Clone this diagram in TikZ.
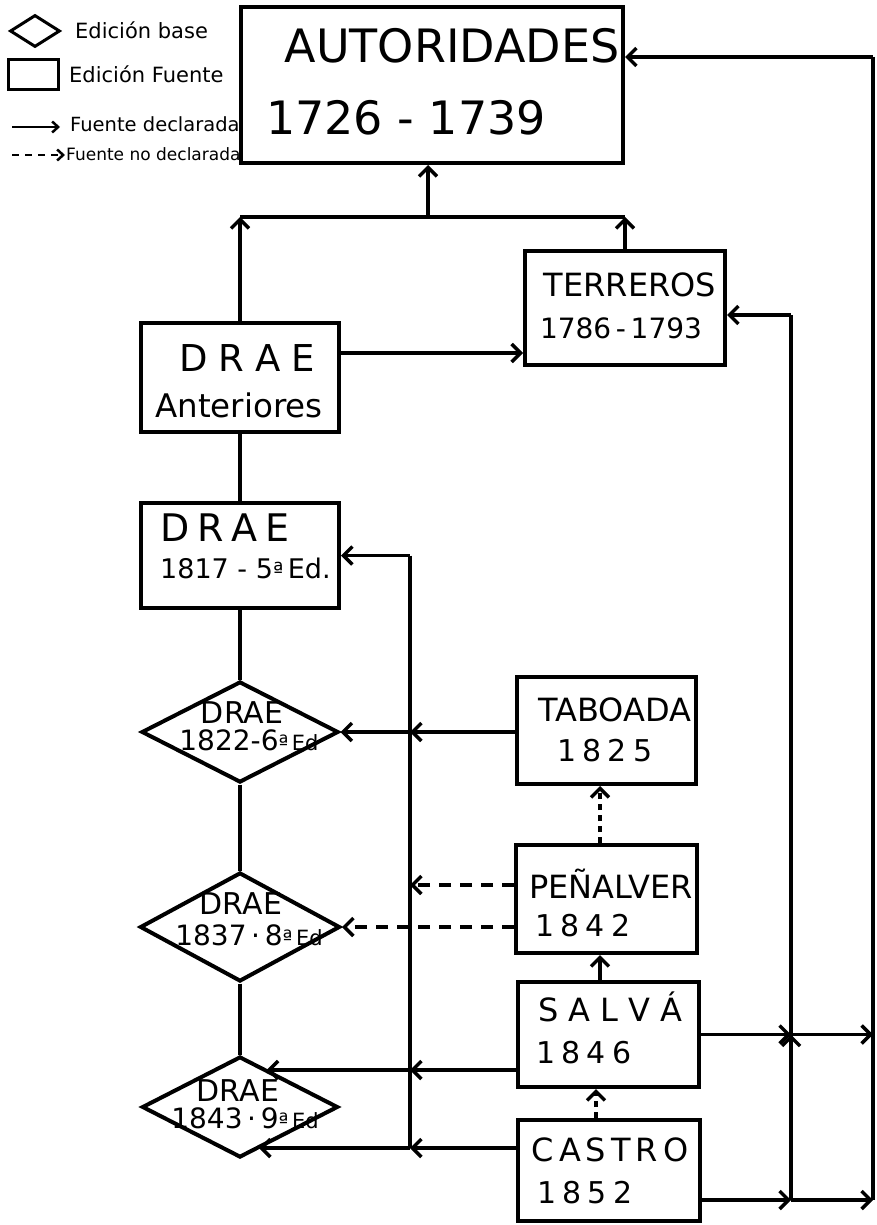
\documentclass[tikz,border=0pt]{standalone}
\usepackage{fontspec}
\setmainfont{DejaVu Sans}
\usetikzlibrary{arrows.meta,shapes.geometric,calc}
\newcommand{\fs}[1]{\fontsize{#1}{#1}\selectfont}
\begin{document}
\begin{tikzpicture}[x=1pt,y=-1pt,
  srcbox/.style={draw, rectangle, line width=4pt, inner sep=0pt},
  basedia/.style={draw, diamond, line width=4pt, inner sep=0pt},
  txt/.style={inner sep=0pt, anchor=base},
  con/.style={line width=3.5pt},
  arr/.style={con, -{Straight Barb[length=9pt,width=18pt]}},
  darr/.style={arr, dash pattern=on 12pt off 9pt},
  sdarr/.style={arr, dash pattern=on 6pt off 5pt},
  legarr/.style={line width=2.5pt, -{Straight Barb[length=6pt,width=11pt]}}]
\useasboundingbox (0,0) rectangle (876,1225);

% legend
\node[basedia, line width=3pt, minimum width=50pt, minimum height=32pt] (lgdia) at (35,31) {};
\node[srcbox, line width=3pt, minimum width=50pt, minimum height=30pt] (lgbox) at (33,75) {};
\coordinate (lga1) at (12,127); \coordinate (lga2) at (60,127);
\coordinate (lgd1) at (12,155); \coordinate (lgd2) at (65,155);
\draw[legarr] (lga1) -- (lga2);
\draw[legarr, dash pattern=on 7pt off 6pt] (lgd1) -- (lgd2);
\node[txt, anchor=base west, font=\fs{21}] (lgt1) at (75,38.7) {Edición base};
\node[txt, anchor=base west, font=\fs{21}] (lgt2) at (69,82.7) {Edición Fuente};
\node[txt, anchor=base west, font=\fs{19.5}] (lgt3) at (70,132) {Fuente declarada};
\node[txt, anchor=base west, font=\fs{17}] (lgt4) at (66,161) {Fuente no declarada};

% main boxes
\node[srcbox, fill=white, minimum width=382pt, minimum height=156pt] (aut) at (432,85) {};
\node[txt, font=\fs{46}] (autA) at (452,62.8) {AUTORIDADES};
\node[txt, font=\fs{46}] (autB) at (406,134.8) {1726 - 1739};

\node[srcbox, minimum width=200pt, minimum height=114pt] (terr) at (625,308) {};
\node[txt, font=\fs{32}] (terrA) at (630,296.7) {TERREROS};
\node[txt, font=\fs{28}] (terrB) at (621,338.2) {1786\,-\,1793};

\node[srcbox, minimum width=198pt, minimum height=109pt] (anter) at (240,377.5) {};
\node[txt, font=\fs{37}] (anterA) at (247,371.5) {D\kern11pt R\kern11pt A\kern11pt E};
\node[txt, font=\fs{32.5}] (anterB) at (239,417) {Anteriores};

\node[srcbox, minimum width=198pt, minimum height=105pt] (n1817) at (240,555.5) {};
\node[txt, anchor=base west, font=\fs{38}] (n1817A) at (160,541.9) {D\kern8pt R\kern8pt A\kern8pt E};
\node[txt, anchor=base west, font=\fs{27}] (n1817B) at (160,578.2) {1817 - 5{\fs{22}ª}\,Ed.};

\node[basedia, minimum width=197pt, minimum height=101pt] (d1822) at (240,732) {};
\node[txt, font=\fs{30}] (d1822A) at (242,723) {DRAE};
\node[txt, font=\fs{28}] (d1822B) at (249,750) {1822-6{\fs{21}ª\,Ed}};

\node[basedia, minimum width=200pt, minimum height=109pt] (d1837) at (240,927) {};
\node[txt, font=\fs{30}] (d1837A) at (241,914) {DRAE};
\node[txt, font=\fs{28}] (d1837B) at (249,945) {1837\,·\,8{\fs{21}ª\,Ed}};

\node[basedia, minimum width=196pt, minimum height=101pt] (d1843) at (240,1107) {};
\node[txt, font=\fs{30}] (d1843A) at (238,1101) {DRAE};
\node[txt, font=\fs{28}] (d1843B) at (245,1128) {1843\,·\,9{\fs{21}ª\,Ed}};

\node[srcbox, minimum width=179pt, minimum height=107pt] (tab) at (606.5,730.5) {};
\node[txt, font=\fs{32}] (tabA) at (615,721.7) {TABOADA};
\node[txt, font=\fs{30}] (tabB) at (605,761) {1\kern6pt 8\kern6pt 2\kern6pt 5};

\node[srcbox, minimum width=181pt, minimum height=108pt] (pen) at (606.5,899) {};
\node[txt, font=\fs{32}] (penA) at (611,898.7) {PEÑALVER};
\node[txt, font=\fs{30}] (penB) at (583,936) {1\kern6pt 8\kern6pt 4\kern6pt 2};

\node[srcbox, minimum width=181pt, minimum height=105pt] (salva) at (608.5,1034.5) {};
\node[txt, font=\fs{32}] (salvaA) at (610,1021.7) {S\kern10pt A\kern10pt L\kern10pt V\kern10pt Á};
\node[txt, font=\fs{30}] (salvaB) at (584,1063) {1\kern6pt 8\kern6pt 4\kern6pt 6};

\node[srcbox, minimum width=182pt, minimum height=101pt] (castro) at (609,1170.5) {};
\node[txt, font=\fs{32}] (castroA) at (610,1161.7) {C\kern5pt A\kern5pt S\kern5pt T\kern5pt R\kern5pt O};
\node[txt, font=\fs{30}] (castroB) at (585,1203) {1\kern6pt 8\kern6pt 5\kern6pt 2};

% top connections
\coordinate (tb) at (428,217);
\draw[arr] (tb) -- (tb |- aut.south);
\draw[arr] (anter.north) -- (anter.north |- tb);
\draw[arr] (terr.north) -- (terr.north |- tb);
\draw[con] (anter.north |- tb) -- (terr.north |- tb);
\coordinate (aE) at ([yshift=24.5pt]anter.east);
\draw[arr] (aE) -- (aE -| terr.west);

% left column
\draw[con] (anter.south) -- (n1817.north);
\draw[con] (n1817.south) -- (d1822.north);
\draw[con] (d1822.south) -- (d1837.north);
\draw[con] (d1837.south) -- (d1843.north);

% right column vertical links
\coordinate (pN) at ([xshift=-6.5pt]pen.north);
\draw[sdarr] (pN) -- (pN |- tab.south);
\coordinate (sN) at ([xshift=-8.5pt]salva.north);
\draw[arr] (sN) -- (sN |- pen.south);
\coordinate (cN) at ([xshift=-13pt]castro.north);
\draw[sdarr] (cN) -- (cN |- salva.south);

% right buses
\coordinate (rbT) at (791,315);
\coordinate (ebT) at (873,57);
\coordinate (cE) at ([yshift=-29.5pt]castro.east);
\draw[arr] (rbT) -- (rbT -| terr.east);
\draw[con] (rbT) -- (rbT |- cE);
\draw[arr] (ebT) -- (ebT -| aut.east);
\draw[con] (ebT) -- (ebT |- cE);
\draw[arr] (salva.east) -- (salva.east -| rbT);
\draw[arr] (salva.east -| rbT) -- (salva.east -| ebT);
\draw[arr] ($(salva.east -| rbT)+(0,18)$) -- (salva.east -| rbT);
\draw[arr] (cE) -- (cE -| rbT);
\draw[arr] (cE -| rbT) -- (cE -| ebT);

% left bus
\coordinate (lbT) at (410,555.5);
\coordinate (cW) at ([yshift=22.5pt]castro.west);
\draw[arr] (lbT) -- (n1817.east);
\draw[con] (lbT) -- (lbT |- cW);
\coordinate (tW) at (tab.west |- d1822.east);
\draw[arr] (tW) -- (tW -| lbT);
\draw[arr] (tW -| lbT) -- (d1822.east);
\coordinate (pW) at ([yshift=14pt]pen.west);
\draw[darr] (pW) -- (pW -| lbT);
\draw[darr] (pen.west |- d1837.east) -- (d1837.east);
\coordinate (sW) at ([yshift=-35.5pt]salva.west);
\path (d1843.north) -- (d1843.east) coordinate[pos=0.267] (d43a);
\path (d1843.east) -- (d1843.south) coordinate[pos=0.81] (d43b);
\draw[arr] (sW) -- (sW -| lbT);
\draw[arr] (sW -| lbT) -- (sW -| d43a);
\draw[arr] (cW) -- (cW -| lbT);
\draw[arr] (cW -| lbT) -- (cW -| d43b);
\end{tikzpicture}
\end{document}
